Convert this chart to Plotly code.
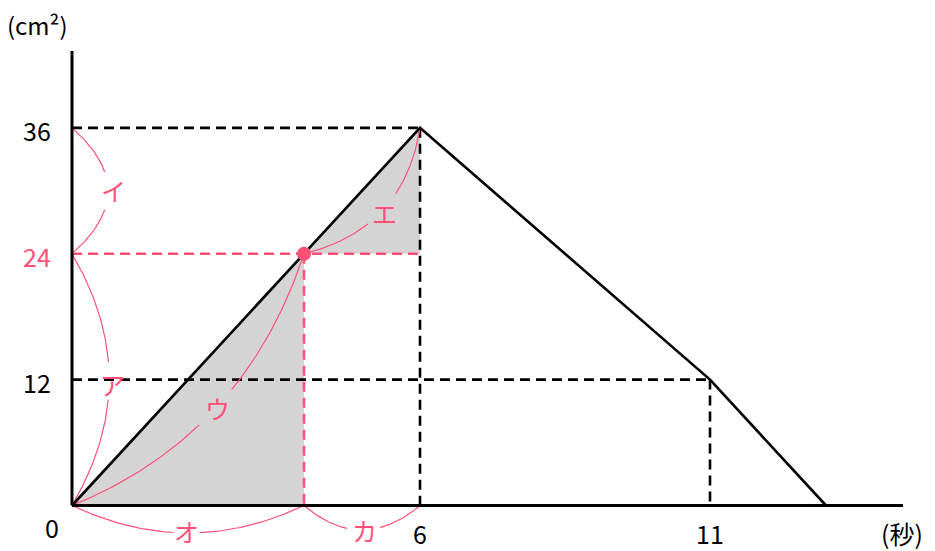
import numpy as np
import plotly.graph_objects as go

# area graph vertices: time (sec) -> area (cm2)
t_pts = [0, 6, 11, 13]
area_pts = [0, 36, 12, 0]

# highlighted point
t_mark = 4
area_mark = 24

# tick labels
y_ticks = [36, 24, 12]
y_tick_text = ["36", "24", "12"]
x_ticks = [0, 6, 11]
x_tick_text = ["0", "6", "11"]
x_unit = "(秒)"
y_unit = "(cm²)"

# brace labels
brace_text = ["イ", "ア", "ウ", "エ", "オ", "カ"]

PINK = "#ff5078"
GREY = "#d4d4d4"
FONT = "Noto Sans CJK JP, Noto Sans, sans-serif"

# pixel scale of the drawing (px per unit) and origin position
SX, SY = 58.0, 10.49
OX, OY = 72.0, 505.5
W, H = 935, 551


def px(x, y):
    # pixel position -> data position
    return (x - OX) / SX, (OY - y) / SY


def bezier(p0, c, p2, gap):
    xs, ys = [], []
    for a, b in [(0, gap[0]), (gap[1], 1)]:
        t = np.linspace(a, b, 40)[:, None]
        pts = (1 - t) ** 2 * np.array(p0) + 2 * (1 - t) * t * np.array(c) + t ** 2 * np.array(p2)
        xs += list(pts[:, 0]) + [None]
        ys += list(pts[:, 1]) + [None]
    return xs, ys


fig = go.Figure()

# grey regions
fig.add_trace(go.Scatter(x=[0, t_mark, t_mark, 0], y=[0, area_mark, 0, 0], fill="toself",
                         fillcolor=GREY, line=dict(width=0), mode="lines", hoverinfo="skip"))
fig.add_trace(go.Scatter(x=[t_mark, t_pts[1], t_pts[1], t_mark], y=[area_mark, area_pts[1], area_mark, area_mark],
                         fill="toself", fillcolor=GREY, line=dict(width=0), mode="lines", hoverinfo="skip"))

# dashed guides
dash = "10px,6px"
black_guides = [
    ([0, t_pts[1]], [area_pts[1], area_pts[1]]),
    ([t_pts[1], t_pts[1]], [area_pts[1], 0]),
    ([0, t_pts[2]], [area_pts[2], area_pts[2]]),
    ([t_pts[2], t_pts[2]], [area_pts[2], 0]),
]
for gx, gy in black_guides:
    fig.add_trace(go.Scatter(x=gx, y=gy, mode="lines", line=dict(color="black", width=2.6, dash=dash)))
fig.add_trace(go.Scatter(x=[0, t_pts[1]], y=[area_mark, area_mark], mode="lines",
                         line=dict(color=PINK, width=2.6, dash=dash)))
fig.add_trace(go.Scatter(x=[t_mark, t_mark], y=[area_mark, 0], mode="lines",
                         line=dict(color=PINK, width=2.6, dash=dash)))

# pink braces (quadratic curves with a gap for the label)
braces = [
    ((0, 36), (1.24, 30), (0, 24), (0.35, 0.65), px(113, 190)),
    ((0, 24), (1.28, 12), (0, 0), (0.43, 0.58), px(112, 384)),
    ((t_mark, area_mark), px(244, 436), (0, 0), (0.43, 0.57), px(217, 408)),
    ((t_mark, area_mark), px(404, 229), (t_pts[1], area_pts[1]), (0.38, 0.62), px(384, 213)),
    ((0, 0), (t_mark / 2, -5.24), (t_mark, 0), (0.435, 0.55), px(186, 531)),
    ((t_mark, 0), ((t_mark + t_pts[1]) / 2, -4.67), (t_pts[1], 0), (0.37, 0.655), px(364, 530)),
]
for (p0, c, p2, gap, lab), txt in zip(braces, brace_text):
    bx, by = bezier(p0, c, p2, gap)
    fig.add_trace(go.Scatter(x=bx, y=by, mode="lines", line=dict(color=PINK, width=1.2)))
    fig.add_annotation(x=lab[0], y=lab[1], text=txt, showarrow=False,
                       font=dict(family=FONT, size=25, color=PINK))

# main graph
fig.add_trace(go.Scatter(x=t_pts, y=area_pts, mode="lines", line=dict(color="black", width=2.6)))

# axes
x_end = px(903, 0)[0]
y_end = px(0, 51)[1]
fig.add_trace(go.Scatter(x=[0, x_end], y=[0, 0], mode="lines", line=dict(color="black", width=3)))
fig.add_trace(go.Scatter(x=[0, 0], y=[0, y_end], mode="lines", line=dict(color="black", width=3)))

# highlighted point
fig.add_trace(go.Scatter(x=[t_mark], y=[area_mark], mode="markers",
                         marker=dict(color=PINK, size=14)))

# tick labels
tick_x_px = 37
for v, s in zip(y_ticks, y_tick_text):
    fig.add_annotation(x=px(tick_x_px, 0)[0], y=v - 0.2, text=s, showarrow=False,
                       font=dict(family=FONT, size=25, color=PINK if v == area_mark else "black"))
tick_y = px(0, 533)[1]
for v, s in zip(x_ticks, x_tick_text):
    xv = px(52, 0)[0] if v == 0 else v
    yv = px(0, 527)[1] if v == 0 else tick_y
    fig.add_annotation(x=xv, y=yv, text=s, showarrow=False,
                       font=dict(family=FONT, size=25, color="black"))
fig.add_annotation(x=px(902, 0)[0], y=tick_y, text=x_unit, showarrow=False,
                   font=dict(family=FONT, size=25, color="black"))
fig.add_annotation(x=px(37, 0)[0], y=px(0, 24)[1], text=y_unit, showarrow=False,
                   font=dict(family=FONT, size=24, color="black"))

fig.update_layout(
    width=W, height=H,
    margin=dict(l=0, r=0, t=0, b=0),
    showlegend=False,
    paper_bgcolor="white", plot_bgcolor="white",
    xaxis=dict(range=[-OX / SX, (W - OX) / SX], visible=False, fixedrange=True),
    yaxis=dict(range=[-(H - OY) / SY, OY / SY], visible=False, fixedrange=True),
)

fig.write_html("out.html", config={"displayModeBar": False},
               post_script="document.body.style.margin='0';")
